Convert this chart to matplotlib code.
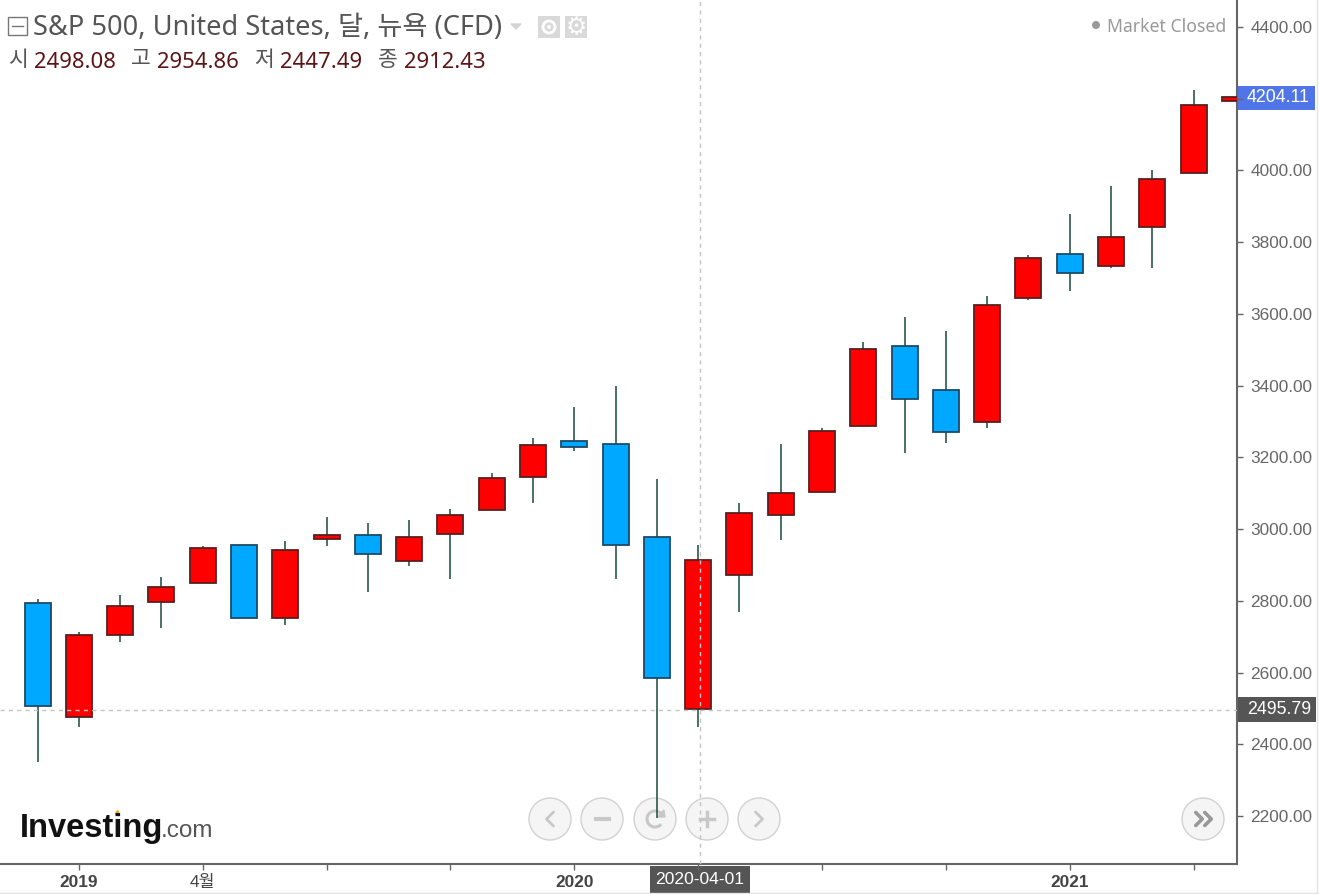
import matplotlib
matplotlib.use("Agg")
from matplotlib import pyplot as plt
from matplotlib.patches import Arc, Circle, Ellipse, Rectangle

KR_FONT = ["Noto Sans", "Noto Sans CJK KR", "DejaVu Sans"]
TICK_FONT = ["Liberation Sans", "Noto Sans CJK KR"]

# monthly candles, Dec 2018 .. Jun 2021
opens = [2794, 2476, 2705, 2797, 2850, 2956, 2752, 2972, 2984, 2911, 2986, 3053, 3145, 3246, 3237, 2978,
         2498.08, 2872, 3039, 3103, 3288, 3511, 3388, 3299, 3644, 3767, 3734, 3842, 3993, 4193]
highs = [2805, 2713, 2816, 2866, 2953, 2956, 2967, 3034, 3017, 3025, 3056, 3156, 3254, 3341, 3399, 3140,
         2954.86, 3073, 3237, 3282, 3522, 3592, 3552, 3650, 3764, 3879, 3957, 4001, 4225, 4204.11]
lows = [2351, 2448, 2685, 2724, 2850, 2752, 2733, 2953, 2825, 2897, 2861, 3053, 3073, 3218, 2861, 2194,
        2447.49, 2769, 2970, 3103, 3288, 3212, 3240, 3282, 3639, 3664, 3728, 3728, 3993, 4193]
closes = [2507, 2705, 2786, 2839, 2947, 2752, 2942, 2984, 2931, 2978, 3039, 3143, 3235, 3229, 2956, 2585,
          2912.43, 3045, 3101, 3274, 3502, 3363, 3271, 3625, 3756, 3714, 3815, 3976, 4183, 4204.11]

y_ticks = [2200, 2400, 2600, 2800, 3000, 3200, 3400, 3600, 3800, 4000, 4200, 4400]
x_ticks = [1, 4, 7, 10, 13, 16, 19, 22, 25, 28]
x_labels = {1: "2019", 4: "4월", 13: "2020", 25: "2021"}
bold_labels = ["2019", "2020", "2021"]

last_price = 4204.11
cross_price = 2495.79
cross_index = 16.04

RED = "#ff0000"
BLUE = "#00a8ff"
GRAY = "#666666"

W, H = 1319, 894
fig = plt.figure(figsize=(W / 100, H / 100), dpi=100)

# overlay in pixel coords for the widget chrome, sits under the candles
ov = fig.add_axes([0, 0, 1, 1], zorder=1)
ov.set_xlim(0, W)
ov.set_ylim(H, 0)
ov.axis("off")

ax = fig.add_axes([0, (H - 864) / H, 1237 / W, 864 / H], zorder=5)
ax.patch.set_visible(False)

# up months are red, down months blue
for i in range(len(opens)):
    up = closes[i] >= opens[i]
    ax.vlines(i, lows[i], highs[i], color="#2a5a45", lw=1.2, zorder=2)
    ax.bar(i, abs(closes[i] - opens[i]), 0.63, bottom=min(opens[i], closes[i]),
           color=RED if up else BLUE, edgecolor="#5c1f1f" if up else "#1d4a68", lw=1.3, zorder=3)

ax.set_xlim(-0.91, 29.05)
ax.set_ylim(2066, 4475.3)

ax.axvline(cross_index, color="#c4c4c4", lw=1, ls=(0, (3, 3)), zorder=4)
ax.axhline(cross_price, color="#c4c4c4", lw=1, ls=(0, (3, 3)), zorder=4)

for side in ["top", "left"]:
    ax.spines[side].set_visible(False)
for side in ["right", "bottom"]:
    ax.spines[side].set_color(GRAY)
    ax.spines[side].set_linewidth(1.5)

ax.yaxis.tick_right()
ax.set_yticks(y_ticks)
ax.set_yticklabels([f"{v}.00" if v != 4200 else "" for v in y_ticks], family=TICK_FONT, fontsize=12.4, color=GRAY)
ax.tick_params(axis="y", length=4, width=1, color=GRAY, pad=5.5)
ax.set_xticks(x_ticks)
ax.set_xticklabels([x_labels.get(t, "") for t in x_ticks], family=TICK_FONT, fontsize=12.4, color="#444444")
for lab in ax.get_xticklabels():
    if lab.get_text() in bold_labels:
        lab.set_fontweight("bold")
ax.tick_params(axis="x", length=4, width=1, color=GRAY, pad=4)

# header
ov.add_patch(Rectangle((8, 17), 19, 18, fill=False, ec="#777777", lw=1))
ov.plot([12, 23], [26, 26], color="#777777", lw=1)
ov.text(33, 28, "S&P 500, United States, 달, 뉴욕 (CFD)", family=KR_FONT, fontsize=19.6, color="#555555", va="center")
ov.fill([511, 521, 516], [24, 24, 29], color="#d4d4d4")
ov.add_patch(Rectangle((538, 16), 22, 22, fc="#d9d9d9", ec="none"))
ov.add_patch(Circle((549, 27), 6, fc="none", ec="white", lw=2))
ov.add_patch(Circle((549, 27), 2, fc="white", ec="none"))
ov.add_patch(Rectangle((565, 16), 22, 22, fc="#d9d9d9", ec="none"))
ov.text(576, 27, "⚙", family="DejaVu Sans", fontsize=17, color="white", ha="center", va="center")

ohlc_parts = [(8, "시", 34, "2498.08"), (131, "고", 157, "2954.86"), (254, "저", 280, "2447.49"), (378, "종", 404, "2912.43")]
for x1, name, x2, val in ohlc_parts:
    ov.text(x1, 60, name, family=KR_FONT, fontsize=15.5, color="#555555", va="center")
    ov.text(x2, 62, val, family=KR_FONT, fontsize=15.9, color="#5e1414", va="center")

ov.add_patch(Circle((1096, 25), 4, fc="#999999", ec="none"))
ov.text(1226, 27, "Market Closed", family=KR_FONT, fontsize=12.7, color="#999999", ha="right", va="center")

# price tags
ov.add_patch(Rectangle((1237, 86), 78, 24, fc="#4f75e8", ec="none"))
ov.text(1247, 98, f"{last_price:.2f}", family=TICK_FONT, fontsize=12.8, color="white", va="center")
ov.add_patch(Rectangle((1237, 697), 79, 25, fc="#555555", ec="none"))
ov.text(1247, 709.5, f"{cross_price:.2f}", family=TICK_FONT, fontsize=12.8, color="white", va="center")
ov.add_patch(Rectangle((650, 866), 100, 27, fc="#555555", ec="none"))
ov.text(700, 880, "2020-04-01", family=TICK_FONT, fontsize=12.6, color="white", ha="center", va="center")

# logo
ov.text(20, 828, "Investing", family="Liberation Sans", fontweight="bold", fontsize=23.5, color="#111111", va="center")
ov.text(161, 831, ".com", family="Liberation Sans", fontsize=17.5, color="#555555", va="center")
ov.add_patch(Ellipse((117, 813), 3.5, 6, angle=25, fc="#f5a623", ec="none"))


def chevron(cx, cy, size, direction, color="#c8c8c8", lw=2):
    ov.plot([cx - direction * size * 0.5, cx + direction * size * 0.5, cx - direction * size * 0.5],
            [cy - size, cy, cy + size], color=color, lw=lw, solid_capstyle="round")


# nav buttons
for bx in [550, 602, 655, 707, 759, 1203]:
    ov.add_patch(Circle((bx, 819), 21, fc="#f5f5f5", ec="#d2d2d2", lw=1))
chevron(550, 819, 7, -1)
ov.plot([596, 609], [819, 819], color="#c8c8c8", lw=3)
ov.add_patch(Arc((655, 819), 16, 16, theta1=40, theta2=340, ec="#c8c8c8", lw=2.2))
ov.fill([657, 665, 664], [817, 817, 810], color="#c8c8c8")
ov.plot([700, 714], [819, 819], color="#c8c8c8", lw=2.5)
ov.plot([707, 707], [812, 826], color="#c8c8c8", lw=2.5)
chevron(759, 819, 7, 1)
chevron(1199, 819, 6.5, 1, color="#999999", lw=2.6)
chevron(1208, 819, 6.5, 1, color="#999999", lw=2.6)

# outer edge of the screenshot
ov.plot([0, W], [892.5, 892.5], color="#e4e4e4", lw=1)
ov.plot([1316.5, 1316.5], [0, 893], color="#e4e4e4", lw=1)

fig.savefig("out.png", dpi=100)
